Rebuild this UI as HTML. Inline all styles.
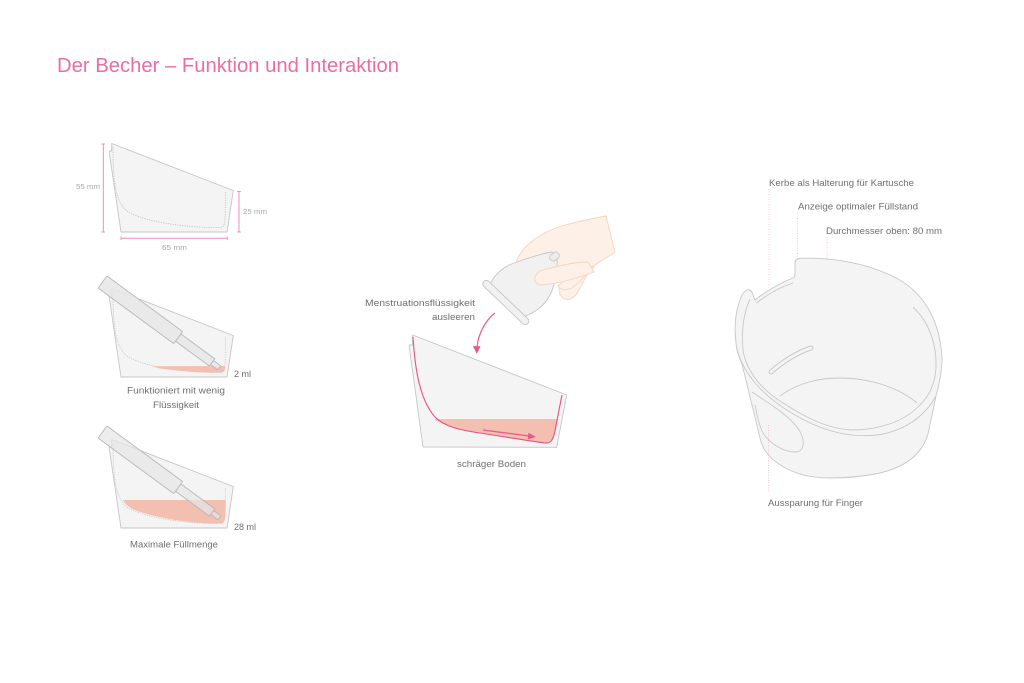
<!DOCTYPE html>
<html><head><meta charset="utf-8"><style>
html,body{margin:0;padding:0;background:#fff;}
svg{display:block;}
text{font-family:"Liberation Sans",sans-serif;}
</style></head><body>
<svg width="1024" height="683" viewBox="0 0 1024 683" xmlns="http://www.w3.org/2000/svg">
<rect width="1024" height="683" fill="#fff"/>

<text x="57" y="72" font-size="20" fill="#ec6ca5" textLength="342" lengthAdjust="spacingAndGlyphs">Der Becher – Funktion und Interaktion</text>

<!-- ===== Cup 1 with dimensions ===== -->
<g>
  <path d="M121,232 L109.3,153 L109.3,151 L111.7,151 L111.7,143.5 L233.3,190.5 L227,232 Z" fill="#f4f4f4" stroke="#c6c6c6" stroke-width="0.9" stroke-linejoin="round"/>
  <path d="M113,147 C113,185 116,205 130,213 C150,223 190,228 221,227.5 C224.5,227 225,222 225.2,215 L225.6,192" fill="none" stroke="#bdbdbd" stroke-width="0.8" stroke-dasharray="1.2 1.2"/>
  <g stroke="#f08cbb" stroke-width="1" fill="none">
    <path d="M103.3,144 V232 M101.5,144 H105 M101.5,232 H105"/>
    <path d="M239,191.5 V232 M237.2,191.5 H240.8 M237.2,232 H240.8"/>
    <path d="M121,238.3 H227.3 M121,236.5 V240.1 M227.3,236.5 V240.1"/>
  </g>
  <text x="76" y="189" font-size="7" fill="#a8a8a8" textLength="24" lengthAdjust="spacingAndGlyphs">55 mm</text>
  <text x="243" y="214" font-size="7" fill="#a8a8a8" textLength="24" lengthAdjust="spacingAndGlyphs">25 mm</text>
  <text x="162" y="250" font-size="7" fill="#a8a8a8" textLength="25" lengthAdjust="spacingAndGlyphs">65 mm</text>
</g>

<!-- ===== Cup 2 ===== -->
<g transform="translate(0,145)">
  <path d="M121,232 L109.3,153 L109.3,151 L111.7,151 L111.7,143.5 L233.3,190.5 L227,232 Z" fill="#f4f4f4" stroke="#c6c6c6" stroke-width="0.9" stroke-linejoin="round"/>
  <path d="M113,147 C113,185 116,205 130,213 C150,223 190,228 221,227.5 C224.5,227 225,222 225.2,215 L225.6,192" fill="none" stroke="#c4c4c4" stroke-width="0.8" stroke-dasharray="1.2 1.2"/>
  <path d="M152,221.2 L225.3,221 L225.2,223 C225,226.5 223,227.5 220,227.5 C200,228 180,226 160,223.5 Z" fill="#f3bfb0"/>
  <g transform="translate(102.5,137) rotate(36.3)" stroke="#b8b8b8" stroke-width="0.9" fill="#e6e6e6" fill-opacity="0.85">
    <rect x="0" y="-7.5" width="94" height="15" rx="1"/>
    <rect x="94" y="-4.5" width="42" height="9"/>
    <rect x="136" y="-2.5" width="9" height="5" rx="1"/>
  </g>
</g>
<text x="234" y="377" font-size="9" fill="#6f6f6f" textLength="17" lengthAdjust="spacingAndGlyphs">2 ml</text>
<text x="127" y="393.5" font-size="9.5" fill="#6f6f6f" textLength="98" lengthAdjust="spacingAndGlyphs">Funktioniert mit wenig</text>
<text x="153" y="408" font-size="9.5" fill="#6f6f6f" textLength="46" lengthAdjust="spacingAndGlyphs">Flüssigkeit</text>

<!-- ===== Cup 3 ===== -->
<g transform="translate(0,296)">
  <path d="M121,232 L109.3,153 L109.3,151 L111.7,151 L111.7,143.5 L233.3,190.5 L227,232 Z" fill="#f4f4f4" stroke="#c6c6c6" stroke-width="0.9" stroke-linejoin="round"/>
  <path d="M113,147 C113,185 116,205 130,213 C150,223 190,228 221,227.5 C224.5,227 225,222 225.2,215 L225.6,192" fill="none" stroke="#c4c4c4" stroke-width="0.8" stroke-dasharray="1.2 1.2"/>
  <path d="M123,204 L225.8,204 L225.2,220 C225,226 223,227.5 220,227.5 C200,228 165,224 140,216 C130,213 125,208 123,204 Z" fill="#f3bfb0"/>
  <g transform="translate(102.5,136) rotate(36.3)" stroke="#b8b8b8" stroke-width="0.9" fill="#e6e6e6" fill-opacity="0.7">
    <rect x="0" y="-7.5" width="94" height="15" rx="1"/>
    <rect x="94" y="-4.5" width="42" height="9"/>
    <rect x="136" y="-2.5" width="9" height="5" rx="1"/>
  </g>
</g>
<text x="234" y="530" font-size="9" fill="#6f6f6f" textLength="22" lengthAdjust="spacingAndGlyphs">28 ml</text>
<text x="130" y="547.5" font-size="9.5" fill="#6f6f6f" textLength="88" lengthAdjust="spacingAndGlyphs">Maximale Füllmenge</text>

<!-- ===== Center: hand + menstrual cup ===== -->
<g stroke="#f2d5c0" stroke-width="0.9" fill="#fdf1e7" stroke-linejoin="round">
  <path d="M516,262 C522,246 540,232 565,225 C580,221 595,218 606,216 C609,228 612,240 615,252 C606,258 597,264 590,268 L560,275 Z"/>
</g>
<g stroke="#c6c6c6" stroke-width="0.9" fill="#f1f1f1" stroke-linejoin="round">
  <path d="M490,285 C494,274 505,265 520,261 C532,257 543,253 552,252 L557,259 C558,270 555,285 550,295 C545,305 535,313 523,317 Z"/>
  <rect x="-30.5" y="-3.5" width="61" height="7" rx="3.5" transform="translate(505.8,302.5) rotate(43.7)"/>
</g>
<g stroke="#f2d5c0" stroke-width="0.9" fill="#fdf1e7" stroke-linejoin="round">
  <path d="M594,267 C588,272 584,280 579,290 C575,298 568,302 563,298 C558,294 558,287 562,282 L580,266 Z"/>
  <path d="M588,272 C583,278 578,284 572,288 C566,291 560,290 558,286 L575,270 Z"/>
  <path d="M588,262 C574,262 558,266 543,270 C533,273 532,284 541,285 C555,284 572,280 594,272 Z"/>
</g>
<rect x="-5" y="-3.5" width="10" height="7" rx="3" transform="translate(554.5,256.5) rotate(-35)" fill="#ececec" stroke="#c6c6c6" stroke-width="0.8"/>

<text x="365" y="306" font-size="9.5" fill="#6f6f6f" textLength="110" lengthAdjust="spacingAndGlyphs">Menstruationsflüssigkeit</text>
<text x="432" y="320" font-size="9.5" fill="#6f6f6f" textLength="43" lengthAdjust="spacingAndGlyphs">ausleeren</text>
<path d="M495,313 C486,320 478,333 477,348" fill="none" stroke="#e8588a" stroke-width="1.2"/>
<polygon points="473,346 476.8,354 480.6,346.4" fill="#e8588a"/>

<path d="M423,447 L409.3,347 L409.3,345 L412.5,345 L412.7,335 L566.7,395 L556.7,447.3 Z" fill="#f4f4f4" stroke="#c6c6c6" stroke-width="0.9" stroke-linejoin="round"/>
<path d="M434,419 L557.3,419 L556,428 C554,438 551,442.5 545,442.8 C520,440 490,435 465,430 C450,427 441,424 434,419 Z" fill="#f3bfb0"/>
<path d="M413,337 C415,370 420,400 435,417 C445,427 460,430 480,433 C505,437 530,441 545,443 C551,443.5 553,440 555,431 C557,420 560,405 562,395" fill="none" stroke="#e8517f" stroke-width="1.1"/>
<path d="M483,430 L529,436" stroke="#e8588a" stroke-width="1.3"/>
<polygon points="536,437 527.7,439.2 528.5,432.8" fill="#e8588a"/>
<text x="457" y="467" font-size="9.5" fill="#6f6f6f" textLength="69" lengthAdjust="spacingAndGlyphs">schräger Boden</text>

<!-- ===== Right: bowl ===== -->
<g stroke="#f5bcd2" stroke-width="0.8" stroke-dasharray="1 1.5" fill="none">
  <path d="M769,189 V285"/>
  <path d="M797.5,213 V347"/>
  <path d="M827,237 V258"/>
</g>
<path d="M736.5,347 C734,330 735,315 739,303 C741,296 744,291 747,290 C750,289 752,291 753,295 L755,300 C765,292 780,283 793,278 C795,277 795,275 795,272 L795,263 C795,260 797,258.5 801,258.3 C835,257 870,264 898,279 C925,294 940,322 942,358 C942,372 939,385 936,396 L928,434 C922,455 905,467 880,473 C862,477 845,478 830,478 C812,478 795,474 782,466 C770,459 764,451 761,442 L742,364 C739,357 737,352 736.5,347 Z" fill="#f4f4f4" stroke="#c8c8c8" stroke-width="0.9"/>
<g fill="none" stroke="#c8c8c8" stroke-width="0.9">
  <path d="M756.5,303 C768,294 780,287 793,283"/>
  <path d="M750,299 C744,312 741,330 743,350 C746,370 760,388 780,401 C800,414 825,429 852,430 C880,430 905,421 920,405 C935,390 938,370 935,350 C932,332 924,317 913,307"/>
  <path d="M736.5,347 C742,372 762,396 795,415 C822,431 850,438 877,435 C905,431 925,416 936,396"/>
  <path d="M780,396 C795,385 815,378 840,378 C870,378 900,388 917,403"/>
  <path d="M752,392 C770,404 790,416 799,430 C806,441 804,452 795,452 C784,452 770,444 763,433 C759,425 757,415 755,405"/>
</g>
<path d="M771,372 C782,362 798,352 811,348" fill="none" stroke="#c8c8c8" stroke-width="5" stroke-linecap="round"/>
<path d="M771,372 C782,362 798,352 811,348" fill="none" stroke="#f4f4f4" stroke-width="3" stroke-linecap="round"/>
<path d="M768.5,425 V492" stroke="#f5bcd2" stroke-width="0.8" stroke-dasharray="1 1.5" fill="none"/>

<text x="769" y="186" font-size="9.5" fill="#6f6f6f" textLength="145" lengthAdjust="spacingAndGlyphs">Kerbe als Halterung für Kartusche</text>
<text x="798" y="209.5" font-size="9.5" fill="#6f6f6f" textLength="120" lengthAdjust="spacingAndGlyphs">Anzeige optimaler Füllstand</text>
<text x="826" y="234" font-size="9.5" fill="#6f6f6f" textLength="116" lengthAdjust="spacingAndGlyphs">Durchmesser oben: 80 mm</text>
<text x="768" y="506" font-size="9.5" fill="#6f6f6f" textLength="95" lengthAdjust="spacingAndGlyphs">Aussparung für Finger</text>
</svg>
</body></html>
